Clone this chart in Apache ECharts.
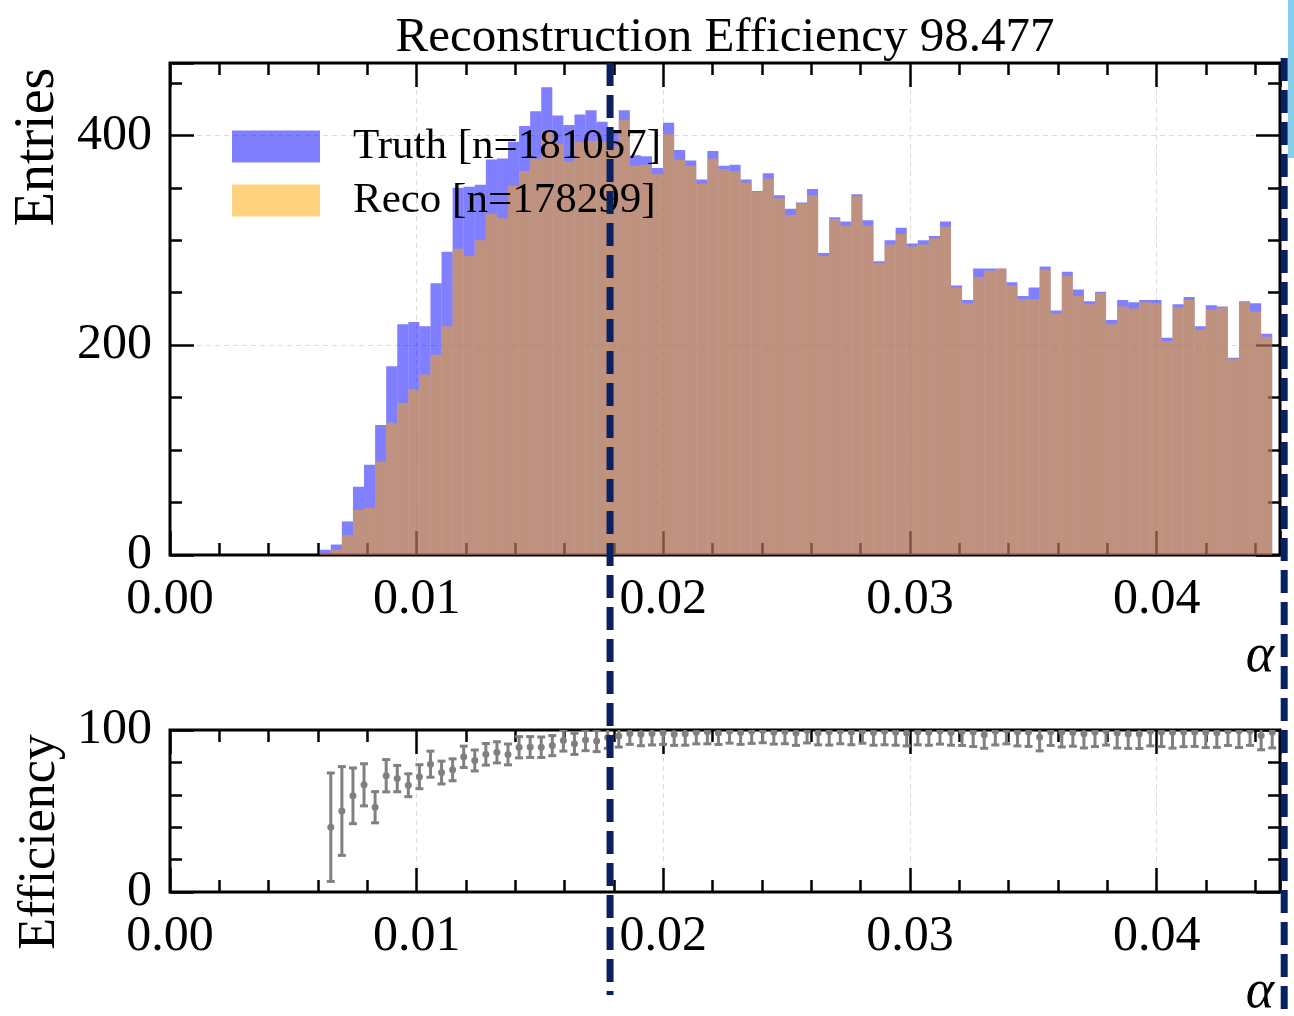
<!DOCTYPE html>
<html>
<head>
<meta charset="utf-8">
<title>Reconstruction Efficiency</title>
<script src="https://cdn.jsdelivr.net/npm/echarts@6/dist/echarts.min.js"></script>
<style>
  html, body { margin: 0; padding: 0; background: #ffffff; }
  #chart { width: 1294px; height: 1016px; }
</style>
</head>
<body>
<div id="chart"></div>
<script>
// ---- binning of alpha (equal-width bins) ----
const binStart = 0.00607;
const binWidth = 0.000449;

// ---- entries per bin ----
const truthCounts = [
  5, 10, 32, 65, 86, 124, 180, 220, 222, 218,
  259, 289, 350, 351, 353, 377, 378, 394, 409, 423,
  446, 419, 410, 420, 424, 413, 405, 424, 381, 380,
  369, 412, 386, 376, 358, 385, 371, 372, 358, 347,
  364, 343, 330, 336, 349, 288, 322, 318, 344, 319,
  280, 300, 312, 297, 300, 304, 318, 257, 243, 273,
  273, 273, 260, 247, 255, 275, 233, 270, 253, 242,
  251, 224, 243, 241, 243, 243, 207, 239, 246, 218,
  238, 237, 188, 242, 240, 211
];
const recoCounts = [
  2, 5, 19, 43, 45, 89, 126, 145, 158, 172,
  191, 218, 292, 285, 300, 325, 321, 352, 366, 378,
  403, 392, 375, 394, 395, 394, 390, 415, 371, 372,
  363, 401, 377, 371, 354, 378, 368, 366, 355, 346,
  359, 340, 324, 335, 343, 285, 320, 314, 342, 314,
  278, 296, 306, 294, 296, 302, 313, 255, 240, 265,
  271, 273, 257, 244, 244, 272, 230, 266, 247, 239,
  250, 220, 237, 235, 241, 240, 204, 236, 243, 215,
  234, 236, 187, 241, 232, 208
];

const truthLabel = 'Truth [n=181057]';
const recoLabel = 'Reco [n=178299]';
const titleText = 'Reconstruction Efficiency 98.477';

// ---- axes ----
const xRange = [0, 0.045];
const xMajor = 0.01, xMinor = 0.002;
const entriesRange = [0, 469];
const entriesMajor = 200, entriesMinor = 50;
const effRange = [0, 100];
const effMajor = 100, effMinor = 20;

// vertical dashed markers (alpha positions)
const cutLines = [0.01784, 0.04517];

const FONT = "'Liberation Serif', 'DejaVu Serif', serif";
const TICK_MAJOR = 24, TICK_MINOR = 12;

function near(v, step) {
  return Math.abs(v / step - Math.round(v / step)) < 1e-6;
}

// major axis (with optional labels / grid lines) plus a minor-tick twin
function axisPair(dim, grid, pos, range, major, minor, labelFn, split) {
  const base = {
    type: 'value', gridIndex: grid, position: pos,
    min: range[0], max: range[1],
    axisLine: { show: false, onZero: false }
  };
  const majorAxis = Object.assign({}, base, {
    interval: major,
    axisTick: { show: true, inside: true, length: TICK_MAJOR, lineStyle: { color: '#000', width: 2.5 } },
    axisLabel: labelFn ? {
      show: true, formatter: labelFn, fontFamily: FONT, fontSize: 50, color: '#000',
      margin: dim === 'x' ? 20 : 18, hideOverlap: false
    } : { show: false },
    splitLine: split ? {
      show: true, showMinLine: false, showMaxLine: false,
      lineStyle: { color: '#dcdcdc', width: 1, type: [5, 4] }
    } : { show: false }
  });
  const minorAxis = Object.assign({}, base, {
    interval: minor,
    axisTick: { show: true, inside: true, length: TICK_MINOR, lineStyle: { color: '#000', width: 2.5 } },
    axisLabel: { show: false },
    splitLine: { show: false }
  });
  return [majorAxis, minorAxis];
}

const xLabel = v => near(v, xMajor) ? v.toFixed(2) : '';
const entriesLabel = v => near(v, entriesMajor) ? String(Math.round(v)) : '';
const effLabel = v => near(v, effMajor) ? String(Math.round(v)) : '';

const xAxes = [].concat(
  axisPair('x', 0, 'bottom', xRange, xMajor, xMinor, xLabel, true),
  axisPair('x', 0, 'top', xRange, xMajor, xMinor, null, false),
  axisPair('x', 1, 'bottom', xRange, xMajor, xMinor, xLabel, true),
  axisPair('x', 1, 'top', xRange, xMajor, xMinor, null, false)
);
const yAxes = [].concat(
  axisPair('y', 0, 'left', entriesRange, entriesMajor, entriesMinor, entriesLabel, true),
  axisPair('y', 0, 'right', entriesRange, entriesMajor, entriesMinor, null, false),
  axisPair('y', 1, 'left', effRange, effMajor, effMinor, effLabel, false),
  axisPair('y', 1, 'right', effRange, effMajor, effMinor, null, false)
);

// ---- series data ----
const histData = counts => counts.map((c, i) => [binStart + i * binWidth, binStart + (i + 1) * binWidth, c]);

// efficiency = reco / truth, error from both counts
const effData = truthCounts.map((t, i) => {
  const r = recoCounts[i];
  const e = r / t;
  const err = e * Math.sqrt(1 / r + 1 / t);
  return [binStart + (i + 1) * binWidth, 100 * e, 100 * err];
});

function renderBar(params, api) {
  const p0 = api.coord([api.value(0), api.value(2)]);
  const p1 = api.coord([api.value(1), 0]);
  return {
    type: 'rect',
    shape: { x: p0[0], y: p0[1], width: p1[0] - p0[0], height: p1[1] - p0[1] },
    style: { fill: api.visual('color') }
  };
}

function renderErr(params, api) {
  const x = api.value(0), y = api.value(1), e = api.value(2);
  const c = api.coord([x, y]);
  const top = api.coord([x, y + e]);
  const bot = api.coord([x, y - e]);
  const cap = 4;
  const st = { stroke: '#808080', lineWidth: 3 };
  return {
    type: 'group',
    children: [
      { type: 'line', shape: { x1: c[0], y1: top[1], x2: c[0], y2: bot[1] }, style: st },
      { type: 'line', shape: { x1: c[0] - cap, y1: top[1], x2: c[0] + cap, y2: top[1] }, style: st },
      { type: 'line', shape: { x1: c[0] - cap, y1: bot[1], x2: c[0] + cap, y2: bot[1] }, style: st },
      { type: 'circle', shape: { cx: c[0], cy: c[1], r: 3.5 }, style: { fill: '#808080' } }
    ]
  };
}

const chart = echarts.init(document.getElementById('chart'), null, { renderer: 'canvas' });

const option = {
  backgroundColor: '#ffffff',
  animation: false,
  grid: [
    { left: 170, top: 63, width: 1110, height: 492, show: true, borderColor: '#000', borderWidth: 3, backgroundColor: 'transparent', containLabel: false },
    { left: 170, top: 730, width: 1110, height: 162, show: true, borderColor: '#000', borderWidth: 3, backgroundColor: 'transparent', containLabel: false }
  ],
  xAxis: xAxes,
  yAxis: yAxes,
  legend: {
    orient: 'vertical', left: 227, top: 120,
    itemWidth: 88, itemHeight: 32, itemGap: 11,
    icon: 'rect', selectedMode: false,
    textStyle: { fontFamily: FONT, fontSize: 43, color: '#000', padding: [0, 0, 0, 28] },
    data: [truthLabel, recoLabel]
  },
  series: [
    {
      name: truthLabel, type: 'custom', xAxisIndex: 0, yAxisIndex: 0,
      itemStyle: { color: 'rgba(0,0,255,0.5)' },
      renderItem: renderBar, encode: { x: [0, 1], y: 2 },
      data: histData(truthCounts), clip: true
    },
    {
      name: recoLabel, type: 'custom', xAxisIndex: 0, yAxisIndex: 0,
      itemStyle: { color: 'rgba(255,165,0,0.5)' },
      renderItem: renderBar, encode: { x: [0, 1], y: 2 },
      data: histData(recoCounts), clip: true
    },
    {
      name: 'Efficiency', type: 'custom', xAxisIndex: 4, yAxisIndex: 4,
      itemStyle: { color: '#808080' },
      renderItem: renderErr, encode: { x: 0, y: 1 },
      data: effData, clip: true, z: 3
    }
  ]
};
chart.setOption(option);

// text annotations and dashed markers
const xa = chart.convertToPixel({ xAxisIndex: 0 }, cutLines[0]);
const xb = chart.convertToPixel({ xAxisIndex: 0 }, cutLines[1]);
const dash = { stroke: '#0a2160', lineWidth: 7, lineDash: [23, 9] };

chart.setOption({
  graphic: [
    { type: 'text', x: 725, y: 38, z: 50,
      style: { text: titleText, font: `49px ${FONT}`, fill: '#000', textAlign: 'center', textVerticalAlign: 'middle', align: 'center', verticalAlign: 'middle' } },
    { type: 'text', x: 38, y: 147, rotation: Math.PI / 2, z: 50,
      style: { text: 'Entries', font: `56px ${FONT}`, fill: '#000', textAlign: 'center', textVerticalAlign: 'middle', align: 'center', verticalAlign: 'middle' } },
    { type: 'text', x: 40, y: 842, rotation: Math.PI / 2, z: 50,
      style: { text: 'Efficiency', font: `52px ${FONT}`, fill: '#000', textAlign: 'center', textVerticalAlign: 'middle', align: 'center', verticalAlign: 'middle' } },
    { type: 'text', x: 1260, y: 657, z: 50,
      style: { text: 'α', font: `italic 54px ${FONT}`, fill: '#000', textAlign: 'center', textVerticalAlign: 'middle', align: 'center', verticalAlign: 'middle' } },
    { type: 'text', x: 1260, y: 993, z: 50,
      style: { text: 'α', font: `italic 54px ${FONT}`, fill: '#000', textAlign: 'center', textVerticalAlign: 'middle', align: 'center', verticalAlign: 'middle' } },
    { type: 'line', z: 60, shape: { x1: xa, y1: 63, x2: xa, y2: 995 }, style: dash },
    { type: 'line', z: 60, shape: { x1: xb, y1: 58, x2: xb, y2: 1012 }, style: dash },
    { type: 'rect', z: 60, shape: { x: 1288, y: 0, width: 6, height: 158 }, style: { fill: '#87ceeb' } }
  ]
});
</script>
</body>
</html>
